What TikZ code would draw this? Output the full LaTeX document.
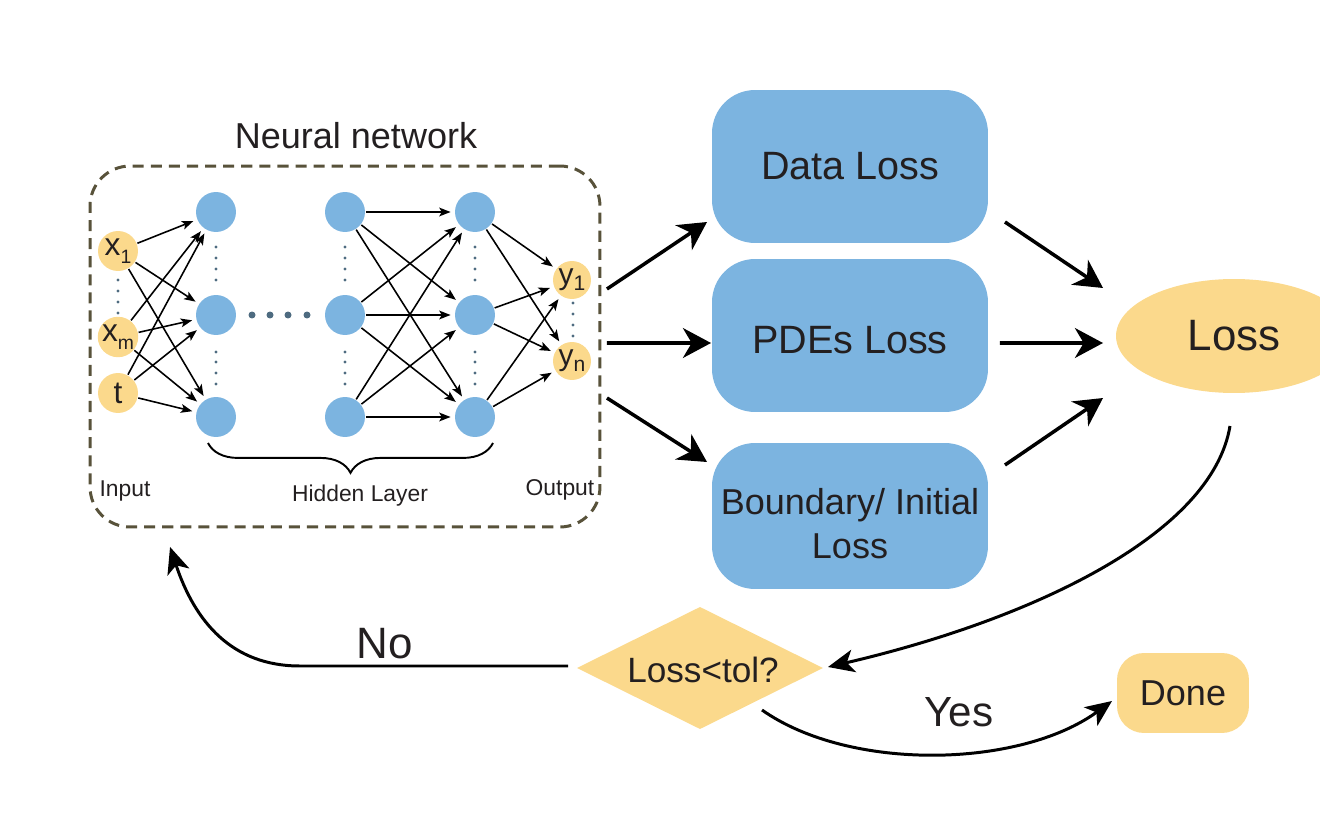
\documentclass[tikz,border=0pt]{standalone}
\usepackage{fontspec}
\setmainfont{Liberation Sans}
\usetikzlibrary{arrows.meta,shapes.geometric,calc,decorations.pathreplacing}
\definecolor{nblue}{RGB}{124,180,224}
\definecolor{norange}{RGB}{251,217,140}
\definecolor{frameol}{RGB}{88,82,58}
\definecolor{dotc}{RGB}{78,107,128}
\definecolor{ink}{RGB}{35,31,32}
\begin{document}
\begin{tikzpicture}[x=0.02cm,y=-0.02cm,text=ink,
  neuron/.style={circle,fill=nblue,minimum size=0.8cm,inner sep=0pt,outer sep=0pt},
  inode/.style={circle,fill=norange,minimum size=0.8cm,inner sep=0pt,outer sep=0pt,
    font=\fontsize{18}{20}\selectfont},
  onode/.style={circle,fill=norange,minimum size=0.76cm,inner sep=0pt,outer sep=0pt,
    font=\fontsize{17}{19}\selectfont},
  netarrow/.style={-{Stealth[length=6.5pt,width=5pt,inset=1.5pt]},line width=0.9pt,
    shorten <=0.5pt,shorten >=2.5pt},
  lossbox/.style={rectangle,rounded corners=0.86cm,fill=nblue,minimum width=5.52cm,
    inner sep=0pt,outer sep=0pt,align=center},
  bigarrow/.style={-{Stealth[length=16pt,width=17pt,inset=5pt]},line width=2pt},
  curvearrow/.style={-{Stealth[length=15pt,width=13pt,inset=4pt]},line width=1.7pt},
  smalllabel/.style={inner sep=0pt,font=\fontsize{13}{15}\selectfont},
  vdot/.style={fill=dotc}
]
\useasboundingbox (0,0) rectangle (1320,821);
\clip (0,0) rectangle (1320,821);

% ---------- neural network frame ----------
\node[draw=frameol,line width=1.7pt,dash pattern=on 6.3pt off 4pt,rounded corners=0.8cm,
  minimum width=10.2cm,minimum height=7.22cm,inner sep=0pt,outer sep=0pt] (nn) at (345,346.5) {};
\node[inner sep=0pt,font=\fontsize{20.5}{24}\selectfont] (title) at (356,135.5) {Neural network};

% input nodes
\node[inode] (in1) at (118,251) {x\raisebox{-0.5ex}{\fontsize{11}{11}\selectfont 1}};
\node[inode] (in2) at (118,337) {x\raisebox{-0.5ex}{\fontsize{11}{11}\selectfont m}};
\node[inode] (in3) at (118,393) {t};

% hidden layers
\foreach \c/\xx in {1/216,2/345,3/475}{
  \node[neuron] (h\c1) at (\xx,212) {};
  \node[neuron] (h\c2) at (\xx,315) {};
  \node[neuron] (h\c3) at (\xx,417) {};
}

% output nodes
\node[onode] (out1) at (572,280) {y\raisebox{-0.35ex}{\fontsize{12}{12}\selectfont 1}};
\node[onode] (out2) at (572,361) {y\raisebox{-0.35ex}{\fontsize{12}{12}\selectfont n}};

% dots
\foreach \xx in {216,345,475}{
  \foreach \yy in {247,258,269,280,352,362,373,384}{
    \fill[vdot] (\xx,\yy) circle[radius=0.032cm];
  }
}
\foreach \yy in {280,291,302,313}{\fill[vdot] (118,\yy) circle[radius=0.032cm];}
\foreach \yy in {303,314,325,336}{\fill[vdot] (573,\yy) circle[radius=0.032cm];}
\foreach \xx in {252,270,288,307}{\fill[vdot] (\xx,315) circle[radius=0.07cm];}

% network connections
\foreach \a in {in1,in2,in3}{
  \foreach \b in {h11,h12,h13}{\draw[netarrow] (\a) -- (\b);}
}
\foreach \a in {h21,h22,h23}{
  \foreach \b in {h31,h32,h33}{\draw[netarrow] (\a) -- (\b);}
}
\foreach \a in {h31,h32,h33}{
  \foreach \b in {out1,out2}{\draw[netarrow] (\a) -- (\b);}
}

% brace and labels
\draw[line width=1.1pt,decorate,decoration={brace,mirror,amplitude=17pt}] (208,443) -- (493,443);
\node[smalllabel] (lin) at (125,491) {Input};
\node[smalllabel] (lhid) at (360,496) {Hidden Layer};
\node[smalllabel] (lout) at (560,490) {Output};

% ---------- loss boxes ----------
\node[lossbox,minimum height=3.06cm,font=\fontsize{22.5}{27}\selectfont] (data) at (850,166.5) {Data Loss};
\node[lossbox,minimum height=3.06cm,font=\fontsize{22.5}{27}\selectfont] (pde) at (850,335.5) {\rule{0pt}{21pt}PDEs Loss};
\node[lossbox,minimum height=2.92cm,font=\fontsize{20.5}{25}\selectfont] (bnd) at (850,516) {\rule{0pt}{24pt}Boundary/ Initial\\Loss};

\node[ellipse,fill=norange,minimum width=4.72cm,minimum height=2.28cm,inner sep=0pt,outer sep=0pt,
  font=\fontsize{25}{30}\selectfont] (loss) at (1234,336) {Loss};

\node[diamond,fill=norange,minimum width=4.92cm,minimum height=2.44cm,inner sep=0pt,outer sep=0pt] (dec) at (700,668) {};
\node[inner sep=0pt,font=\fontsize{20}{24}\selectfont] (dectext) at (703,670) {Loss<tol?};

\node[rectangle,rounded corners=0.54cm,fill=norange,minimum width=2.64cm,minimum height=1.6cm,
  inner sep=0pt,outer sep=0pt,font=\fontsize{20.5}{24}\selectfont] (done) at (1183,693) {Done};

\node[inner sep=0pt,font=\fontsize{25}{30}\selectfont] (nolabel) at (385,644) {No};
\node[inner sep=0pt,font=\fontsize{24}{28}\selectfont] (yeslabel) at (959,712) {Yes};

% ---------- arrows ----------
\draw[bigarrow] ($(nn.east)+(7,-57.5)$) -- ($(data.west)+(-5,55.5)$);
\draw[bigarrow] ($(nn.east)+(7,-3.5)$) -- ($(pde.west)+(-1,7.5)$);
\draw[bigarrow] ($(nn.east)+(7,51.5)$) -- ($(bnd.west)+(-5,-54)$);

\draw[bigarrow] ($(data.east)+(17,55.5)$) -- ($(loss.west)+(-13,-48)$);
\draw[bigarrow] ($(pde.east)+(12,7.5)$) -- ($(loss.west)+(-13,7)$);
\draw[bigarrow] ($(bnd.east)+(17,-51)$) -- ($(loss.west)+(-13,62)$);

\draw[curvearrow] ($(loss.south)+(-4,33)$) .. controls (1212,535) and (1030,620) .. ($(dec.east)+(5,-1)$);
\draw[curvearrow] ($(dec.west)+(-9,-2)$) -- (300,666) .. controls (232,666) and (195,622) .. ($(nn.south west)+(80,20)$);
\draw[curvearrow] ($(dec.center)+(62,42)$) .. controls (850,772) and (1020,768) .. ($(done.west)+(-5,8)$);
\end{tikzpicture}
\end{document}
